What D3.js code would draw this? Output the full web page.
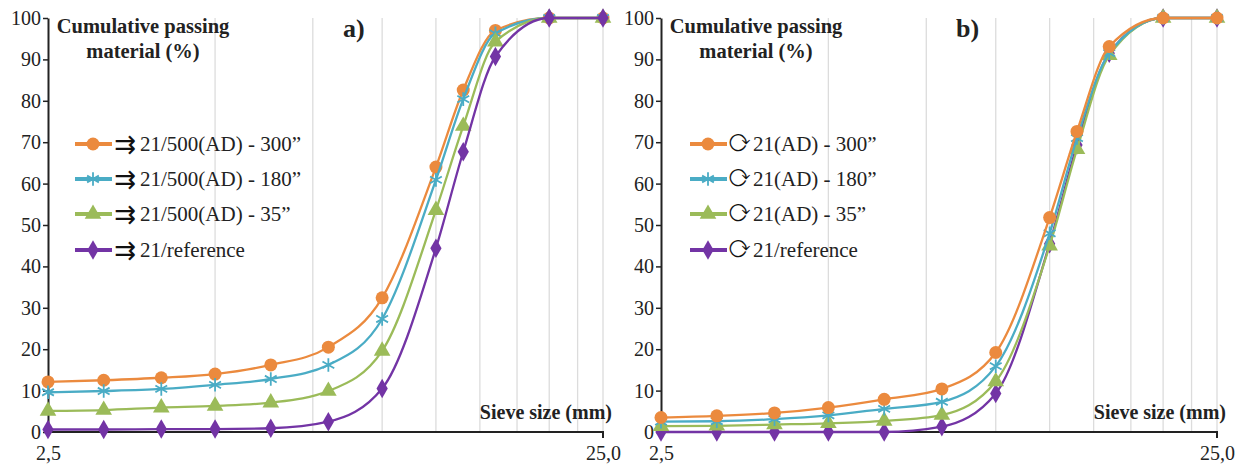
<!DOCTYPE html>
<html>
<head>
<meta charset="utf-8">
<script src="https://cdn.jsdelivr.net/npm/d3@7"></script>
</head>
<body style="margin:0">
<svg id="chart" width="1242" height="469" font-family="Liberation Serif" style="font-family:'Liberation Serif'"></svg>
<script>
// sieve sizes (mm)
const sieves = [2.5, 3.15, 4, 5, 6.3, 8, 10, 12.5, 14, 16, 20, 25];
const gridSizes = [5, 7.5, 10, 12.5, 15, 17.5, 20, 22.5, 25];
const yTicks = [0, 10, 20, 30, 40, 50, 60, 70, 80, 90, 100];

// panel a) values (% passing)
const a300 = [12.1, 12.5, 13.1, 14.0, 16.2, 20.5, 32.4, 64.0, 82.6, 97.0, 100, 100];
const a180 = [9.6, 9.9, 10.4, 11.4, 12.8, 16.2, 27.3, 60.9, 80.4, 96.3, 100, 100];
const a35 = [5.1, 5.3, 5.9, 6.3, 7.1, 9.9, 19.6, 53.6, 73.9, 94.3, 100, 100];
const aRef = [0.6, 0.6, 0.7, 0.7, 0.9, 2.5, 10.5, 44.4, 67.7, 90.7, 100, 100];

// panel b) values
const b300 = [3.5, 3.9, 4.6, 5.9, 7.9, 10.4, 19.2, 51.8, 72.6, 93.1, 100, 100];
const b180 = [2.5, 2.6, 3.1, 4.0, 5.6, 7.3, 15.9, 48.0, 71.0, 91.5, 100, 100];
const b35 = [1.4, 1.5, 1.8, 2.1, 2.7, 4.1, 12.2, 45.0, 68.3, 91.0, 100, 100];
const bRef = [0, 0, 0, 0, 0, 1.3, 9.3, 45.5, 69.3, 91.5, 100, 100];

const labelsA = ["21/500(AD) - 300\u201d", "21/500(AD) - 180\u201d", "21/500(AD) - 35\u201d", "21/reference"];
const labelsB = ["21(AD) - 300\u201d", "21(AD) - 180\u201d", "21(AD) - 35\u201d", "21/reference"];

const colors = ["#EB8A3E", "#4AACC5", "#9BBB59", "#7334A5"];
const shapes = ["circle", "asterisk", "triangle", "diamond"];

const svg = d3.select("#chart");
const plotTop = 18, plotBottom = 432;

function marker(g, shape, color, x, y) {
  if (shape === "circle") {
    g.append("circle").attr("cx", x).attr("cy", y).attr("r", 6.5).attr("fill", color);
  } else if (shape === "asterisk") {
    g.append("path").attr("transform", `translate(${x},${y})`)
      .attr("d", d3.symbol(d3.symbolAsterisk, 130)())
      .attr("fill", "none").attr("stroke", color).attr("stroke-width", 1.8);
  } else if (shape === "triangle") {
    g.append("path").attr("transform", `translate(${x},${y})`)
      .attr("d", d3.symbol(d3.symbolTriangle, 120)()).attr("fill", color);
  } else {
    g.append("path").attr("transform", `translate(${x},${y})`)
      .attr("d", d3.symbol(d3.symbolDiamond, 110)()).attr("fill", color);
  }
}

// serif text helper
function serif(sel) {
  return sel.attr("font-family", "Liberation Serif").style("font-family", "'Liberation Serif'");
}
function txt(g) {
  return serif(g.append("text")).attr("fill", "#222");
}

function drawPanel(opt) {
  const x = d3.scaleLog().domain([2.5, 25]).range([opt.left, opt.right]);
  const y = d3.scaleLinear().domain([0, 100]).range([plotBottom, plotTop]);
  const g = svg.append("g");

  // grid
  g.selectAll(".grid").data(gridSizes).join("line")
    .attr("x1", d => x(d)).attr("x2", d => x(d))
    .attr("y1", plotTop).attr("y2", plotBottom)
    .attr("stroke", "#dcdcdc").attr("stroke-width", 1.3);

  // y axis
  const yAxis = d3.axisLeft(y).tickValues(yTicks).tickSize(5).tickSizeOuter(0);
  const ya = serif(g.append("g").attr("transform", `translate(${opt.left},0)`).call(yAxis));
  ya.select(".domain").attr("stroke", "#222").attr("stroke-width", 2);
  ya.selectAll(".tick line").attr("stroke", "#222").attr("stroke-width", 1.5);
  serif(ya.selectAll(".tick text")).attr("font-size", 20).attr("fill", "#222").attr("x", -7);

  // x axis
  const xAxis = d3.axisBottom(x).tickValues([2.5, 25]).tickSize(0)
    .tickFormat(d => d3.format(".1f")(d).replace(".", ","));
  const xa = serif(g.append("g").attr("transform", `translate(0,${plotBottom})`).call(xAxis));
  xa.select(".domain").attr("stroke", "#222").attr("stroke-width", 2)
    .attr("d", `M${opt.left},0H${opt.right}V6`);
  serif(xa.selectAll(".tick text")).attr("font-size", 20).attr("fill", "#222").attr("dy", "1.25em");

  // series
  const line = d3.line().x(d => x(d[0])).y(d => y(d[1])).curve(d3.curveMonotoneX);
  opt.order.forEach(i => {
    const pts = sieves.map((s, k) => [s, opt.series[i][k]]);
    g.append("path").attr("d", line(pts)).attr("fill", "none")
      .attr("stroke", colors[i]).attr("stroke-width", 2.3);
    const mg = g.append("g");
    pts.forEach(p => marker(mg, shapes[i], colors[i], x(p[0]), y(p[1])));
  });

  // titles
  txt(g).attr("x", opt.titleX).attr("y", 33).attr("text-anchor", "middle")
    .attr("font-weight", "bold").attr("font-size", 20.5).text("Cumulative passing");
  txt(g).attr("x", opt.titleX).attr("y", 58).attr("text-anchor", "middle")
    .attr("font-weight", "bold").attr("font-size", 20.5).text("material (%)");
  txt(g).attr("x", opt.tagX).attr("y", 37).attr("font-weight", "bold")
    .attr("font-size", 26).text(opt.tag);
  txt(g).attr("x", opt.right + 9).attr("y", 419).attr("text-anchor", "end")
    .attr("font-weight", "bold").attr("font-size", 20).text("Sieve size (mm)");

  // legend
  const rows = [144, 179, 214, 250];
  opt.labels.forEach((lab, i) => {
    const lx = opt.legendX;
    g.append("line").attr("x1", lx).attr("x2", lx + 37).attr("y1", rows[i]).attr("y2", rows[i])
      .attr("stroke", colors[i]).attr("stroke-width", 4);
    marker(g, shapes[i], colors[i], lx + 18, rows[i]);
    g.append("text").attr("x", lx + opt.glyphDx).attr("y", rows[i] + opt.glyphDy)
      .attr("font-family", opt.glyphFont).style("font-family", `'${opt.glyphFont}'`)
      .attr("font-size", opt.glyphSize).attr("fill", "#111").text(opt.glyph);
    txt(g).attr("x", lx + opt.textDx).attr("y", rows[i] + 7)
      .attr("font-size", 21).text(lab);
  });
}

drawPanel({
  left: 48, right: 603, titleX: 143, tagX: 343, tag: "a)",
  series: [a300, a180, a35, aRef], order: [0, 1, 2, 3], labels: labelsA,
  legendX: 75, glyph: "\u21C9", glyphFont: "DejaVu Sans", glyphSize: 26, glyphDx: 39, glyphDy: 9, textDx: 65
});
drawPanel({
  left: 661, right: 1217, titleX: 756, tagX: 956, tag: "b)",
  series: [b300, b180, b35, bRef], order: [3, 2, 1, 0], labels: labelsB,
  legendX: 690, glyph: "\u27F3", glyphFont: "FreeSerif", glyphSize: 20, glyphDx: 39, glyphDy: 7, textDx: 63
});
</script>
</body>
</html>
